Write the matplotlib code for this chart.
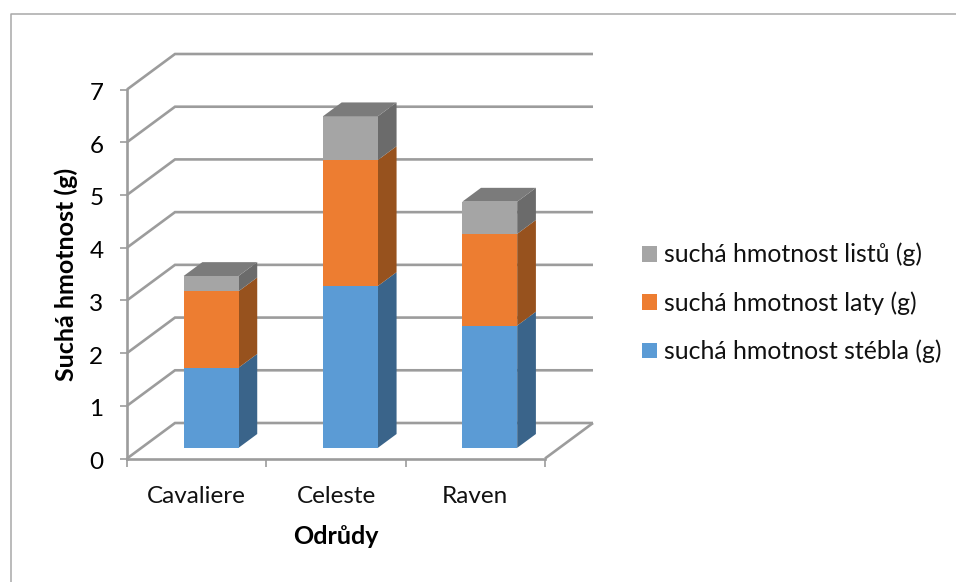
import matplotlib
matplotlib.use("Agg")
import matplotlib.pyplot as plt
from matplotlib.lines import Line2D
from matplotlib.patches import Patch
from matplotlib.transforms import ScaledTranslation

plt.rcParams["font.family"] = ["Lato", "DejaVu Sans"]

# Dry mass per variety, stacked from the stem upwards
varieties = ["Cavaliere", "Celeste", "Raven"]
stem_mass = [1.52, 3.07, 2.32]
panicle_mass = [1.45, 2.39, 1.74]
leaf_mass = [0.29, 0.83, 0.61]
series_labels = ["suchá hmotnost stébla (g)", "suchá hmotnost laty (g)", "suchá hmotnost listů (g)"]
y_ticks = [0, 1, 2, 3, 4, 5, 6, 7]

front_colors = ["#5B9BD5", "#ED7D31", "#A5A5A5"]
side_colors = ["#3A648A", "#97521E", "#6B6B6B"]
top_color = "#7B7B7B"
grid_color = "#9C9C9C"

W, H = 956, 582
fig = plt.figure(figsize=(W / 100, H / 100), dpi=100)

# Plot area: front plane of the oblique box
left, right, bottom, top = 127, 545, 458.5, 89.5
ax = fig.add_axes([left / W, 1 - bottom / H, (right - left) / W, (bottom - top) / H])
ax.set_xlim(-0.5, 2.5)
ax.set_ylim(0, 7)
ax.patch.set_alpha(0)

# Oblique projection: depth 0 is the front plane, depth 1 the back wall
SHEAR_X = 48 / ((right - left) / 3)
SHEAR_Y = 35.5 / ((bottom - top) / 7)


def project(x, y, depth):
    return x + SHEAR_X * depth, y + SHEAR_Y * depth


def face(corners, color, z):
    pts = [project(*c) for c in corners]
    ax.fill([p[0] for p in pts], [p[1] for p in pts], facecolor=color, edgecolor="none",
            lw=0, zorder=z, clip_on=False)


# Walls and floor grid
for v in y_ticks:
    x0, y0 = project(-0.5, v, 0)
    x1, y1 = project(-0.5, v, 1)
    x2, y2 = project(2.5, v, 1)
    ax.plot([x0, x1, x2], [y0, y1, y2], color=grid_color, lw=1.9, zorder=1,
            clip_on=False, solid_joinstyle="miter", solid_capstyle="butt")
x0, y0 = project(2.5, 0, 0)
x1, y1 = project(2.5, 0, 1)
ax.plot([x0, x1], [y0, y1], color=grid_color, lw=1.9, zorder=1, clip_on=False,
        solid_capstyle="butt")

# Stacked blocks
BAR_HALF = 0.197
DEPTH_FRONT, DEPTH_BACK = 0.30, 0.69
stacks = [stem_mass, panicle_mass, leaf_mass]
for i in range(len(varieties)):
    xa, xb = i - BAR_HALF, i + BAR_HALF
    base = 0.0
    for s, values in enumerate(stacks):
        tip = base + values[i]
        z = 3 + i + s * 0.1
        face([(xa, base, DEPTH_FRONT), (xb, base, DEPTH_FRONT),
              (xb, tip, DEPTH_FRONT), (xa, tip, DEPTH_FRONT)], front_colors[s], z + 0.02)
        face([(xb, base, DEPTH_FRONT), (xb, base, DEPTH_BACK),
              (xb, tip, DEPTH_BACK), (xb, tip, DEPTH_FRONT)], side_colors[s], z)
        base = tip
    face([(xa, base, DEPTH_FRONT), (xb, base, DEPTH_FRONT),
          (xb, base, DEPTH_BACK), (xa, base, DEPTH_BACK)], top_color, 3 + i + 0.5)

# Axes, ticks and labels
for name in ("top", "right"):
    ax.spines[name].set_visible(False)
for name in ("left", "bottom"):
    ax.spines[name].set_color(grid_color)
    ax.spines[name].set_linewidth(1.9)
    ax.spines[name].set_zorder(2)

ax.set_yticks(y_ticks)
ax.tick_params(axis="y", length=5, width=1.2, color=grid_color, labelsize=17.5,
               labelcolor="black", pad=12)
nudge = ScaledTranslation(0, -2 / 100, fig.dpi_scale_trans)
for label in ax.get_yticklabels():
    label.set_transform(label.get_transform() + nudge)
ax.set_xticks(range(len(varieties)), varieties)
ax.tick_params(axis="x", which="major", length=0, labelsize=17.5, labelcolor="#111111", pad=20)
ax.set_xticks([-0.5, 0.5, 1.5, 2.5], minor=True)
ax.tick_params(axis="x", which="minor", length=6, width=1.2, color=grid_color)

fig.text(66 / W, 1 - 274 / H, "Suchá hmotnost (g)", rotation=90, ha="center", va="center",
         fontsize=18, fontweight="bold", color="black")
fig.text(336 / W, 1 - 537 / H, "Odrůdy", ha="center", va="center",
         fontsize=18, fontweight="bold", color="black")

# Legend, listed top of stack first
LEG_FS = 17.9
fs_px = LEG_FS * 100 / 72
handles = [Patch(facecolor=c, edgecolor="none") for c in reversed(front_colors)]
fig.legend(handles, list(reversed(series_labels)), loc="center left",
           bbox_to_anchor=(642 / W, 1 - 303 / H), frameon=False, fontsize=LEG_FS,
           handlelength=15 / fs_px, handleheight=15 / fs_px, handletextpad=7 / fs_px,
           labelspacing=1.0, borderpad=0, borderaxespad=0, labelcolor="#111111")

# Chart frame, running off the right and bottom edges
frame = "#A8A8A8"
fig.add_artist(Line2D([10.5 / W, 10.5 / W, 1], [0, 1 - 14 / H, 1 - 14 / H], color=frame, lw=1.1))

fig.savefig("out.png", dpi=100, facecolor="white")
